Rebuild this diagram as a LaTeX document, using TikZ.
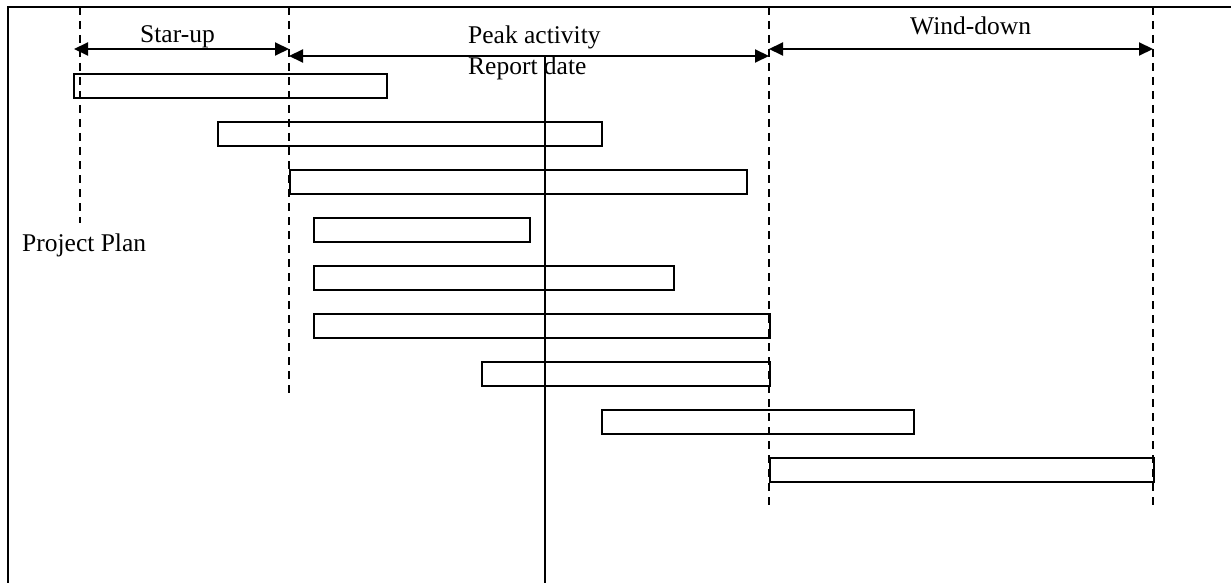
\documentclass[tikz,border=0pt]{standalone}
\usepackage{fontspec}
\setmainfont{Liberation Serif}
\usetikzlibrary{arrows.meta}
\begin{document}
\begin{tikzpicture}[x=1pt,y=-1pt,
  lw/.style={line width=2pt},
  phase/.style={lw, dash pattern=on 8pt off 6pt},
  bar/.style={draw, lw, rectangle, inner sep=0pt, minimum height=24pt, anchor=north west},
  dim/.style={lw, {Triangle[length=14pt,width=13pt]}-{Triangle[length=14pt,width=13pt]}},
  lbl/.style={inner sep=0pt, anchor=base west, font=\fontsize{25.5}{30}\selectfont}]
\useasboundingbox (0,0) rectangle (1231,583);
% frame
\coordinate (fbl) at (8,583);
\coordinate (ftl) at (8,7);
\coordinate (ftr) at (1231,7);
\draw[lw] (fbl) -- (ftl) -- (ftr);
% phase boundaries
\coordinate (p0t) at (80,7);   \coordinate (p0b) at (80,223);
\coordinate (p1t) at (289,7);  \coordinate (p1b) at (289,395);
\coordinate (p2t) at (769,7);  \coordinate (p2b) at (769,505);
\coordinate (p3t) at (1153,7); \coordinate (p3b) at (1153,505);
\draw[phase] (p0t) -- (p0b);
\draw[phase] (p1t) -- (p1b);
\draw[phase] (p2t) -- (p2b);
\draw[phase] (p3t) -- (p3b);
% bars
\node[bar, minimum width=313pt] (b1) at (73,73) {};
\node[bar, minimum width=384pt] (b2) at (217,121) {};
\node[bar, minimum width=457pt] (b3) at (289,169) {};
\node[bar, minimum width=216pt] (b4) at (313,217) {};
\node[bar, minimum width=360pt] (b5) at (313,265) {};
\node[bar, minimum width=456pt] (b6) at (313,313) {};
\node[bar, minimum width=288pt] (b7) at (481,361) {};
\node[bar, minimum width=312pt] (b8) at (601,409) {};
\node[bar, minimum width=384pt] (b9) at (769,457) {};
% report date line
\coordinate (rt) at (545,57);
\coordinate (rb) at (545,583);
\draw[lw] (rt) -- (rb);
% dimension arrows
\coordinate (s1) at (74,49);  \coordinate (s2) at (289,49);
\coordinate (k1) at (289,56); \coordinate (k2) at (769,56);
\coordinate (w1) at (769,49); \coordinate (w2) at (1153,49);
\draw[dim] (s1) -- (s2);
\draw[dim] (k1) -- (k2);
\draw[dim] (w1) -- (w2);
% labels
\node[lbl] (tstar) at (140,43) {Star-up};
\node[lbl] (tpeak) at (468,44) {Peak activity};
\node[lbl] (trep) at (468,75) {Report date};
\node[lbl] (twind) at (910,35) {Wind-down};
\node[lbl] (tplan) at (22,251) {Project Plan};
\end{tikzpicture}
\end{document}
